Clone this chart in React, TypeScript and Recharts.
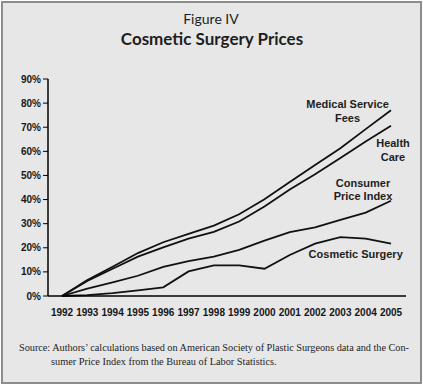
import React from 'react';
import { LineChart, Line, XAxis, YAxis } from 'recharts';

const years = ['1992', '1993', '1994', '1995', '1996', '1997', '1998', '1999', '2000', '2001', '2002', '2003', '2004', '2005'];
const medicalServiceFees = [0, 6.6, 12.1, 17.8, 22.3, 25.8, 29.2, 33.9, 40.1, 47.3, 54.3, 61.3, 69.2, 77];
const healthCare = [0, 6.2, 11.3, 16.3, 20.2, 23.8, 26.6, 30.9, 37.1, 44.2, 50.5, 57.2, 64.1, 70.6];
const consumerPriceIndex = [0, 3.1, 5.7, 8.4, 12.1, 14.5, 16.3, 19.1, 23, 26.5, 28.5, 31.6, 34.6, 39.5];
const cosmeticSurgery = [0, 0.4, 1.2, 2.3, 3.6, 10.2, 12.7, 12.7, 11.3, 17, 21.7, 24.4, 23.8, 21.7];
const yTicks = [0, 10, 20, 30, 40, 50, 60, 70, 80, 90];

const data = years.map((year, i) => ({
  year,
  medical: medicalServiceFees[i],
  health: healthCare[i],
  cpi: consumerPriceIndex[i],
  cosmetic: cosmeticSurgery[i],
}));

const LINE = '#111';
const tickFont = { fontFamily: '"Liberation Sans", Arial, sans-serif', fontWeight: 700, fontSize: 10, fill: '#161616' };
const annot = { fontFamily: '"Liberation Sans", Arial, sans-serif', fontWeight: 700, fontSize: 11, fill: '#1e1e1e' } as const;
const serif = { fontFamily: '"Liberation Serif", "Times New Roman", serif', fontSize: 10.3, fill: '#1e1e1e' } as const;

export default function App() {
  return (
    <div style={{ position: 'absolute', left: 0, top: 0, width: 423, height: 384, background: '#fff' }}>
      <div
        style={{
          position: 'absolute', left: 1, top: 1, width: 421, height: 383, boxSizing: 'border-box',
          border: '2px solid #8c8c8c', background: '#e7e7e7',
        }}
      />
      <div style={{ position: 'absolute', left: 0, top: 0 }}>
        <LineChart width={423} height={384} data={data} margin={{ top: 79, right: 17, bottom: 68, left: 0 }}>
          <XAxis
            dataKey="year"
            height={20}
            interval={0}
            padding={{ left: 14, right: 15 }}
            tickLine={false}
            tickSize={6}
            tickMargin={7}
            axisLine={{ stroke: '#000', strokeWidth: 1.5 }}
            tick={tickFont}
          />
          <YAxis
            width={48}
            domain={[0, 90]}
            ticks={yTicks}
            interval={0}
            tickFormatter={(v) => `${v}%`}
            tickSize={5}
            tickMargin={2}
            tickLine={{ stroke: '#000', strokeWidth: 1 }}
            axisLine={{ stroke: '#000', strokeWidth: 1.5 }}
            tick={tickFont}
          />
          <Line dataKey="medical" stroke={LINE} strokeWidth={1.8} dot={false} isAnimationActive={false} />
          <Line dataKey="health" stroke={LINE} strokeWidth={1.8} dot={false} isAnimationActive={false} />
          <Line dataKey="cpi" stroke={LINE} strokeWidth={1.8} dot={false} isAnimationActive={false} />
          <Line dataKey="cosmetic" stroke={LINE} strokeWidth={1.8} dot={false} isAnimationActive={false} />
        </LineChart>
      </div>
      <svg width={423} height={384} style={{ position: 'absolute', left: 0, top: 0, pointerEvents: 'none' }}>
        <text x={211} y={24} textAnchor="middle" style={{ fontFamily: 'Lato, "Open Sans", sans-serif', fontSize: 14, fill: '#1e1e1e' }}>Figure IV</text>
        <text x={212} y={45} textAnchor="middle" style={{ fontFamily: 'Lato, "Open Sans", sans-serif', fontSize: 17, fontWeight: 700, fill: '#1e1e1e' }}>Cosmetic Surgery Prices</text>

        <text x={347.5} y={108} textAnchor="middle" style={annot}>Medical Service</text>
        <text x={347.5} y={122} textAnchor="middle" style={annot}>Fees</text>
        <text x={393} y={147} textAnchor="middle" style={annot}>Health</text>
        <text x={393} y={161} textAnchor="middle" style={annot}>Care</text>
        <text x={363} y={187} textAnchor="middle" style={annot}>Consumer</text>
        <text x={363} y={200} textAnchor="middle" style={annot}>Price Index</text>
        <text x={355.7} y={258} textAnchor="middle" style={annot}>Cosmetic Surgery</text>

        <text x={19} y={351} textLength={390} lengthAdjust="spacing" style={serif}>
          Source: Authors’ calculations based on American Society of Plastic Surgeons data and the Con-
        </text>
        <text x={51} y={365} style={serif}>
          sumer Price Index from the Bureau of Labor Statistics.
        </text>
      </svg>
    </div>
  );
}
